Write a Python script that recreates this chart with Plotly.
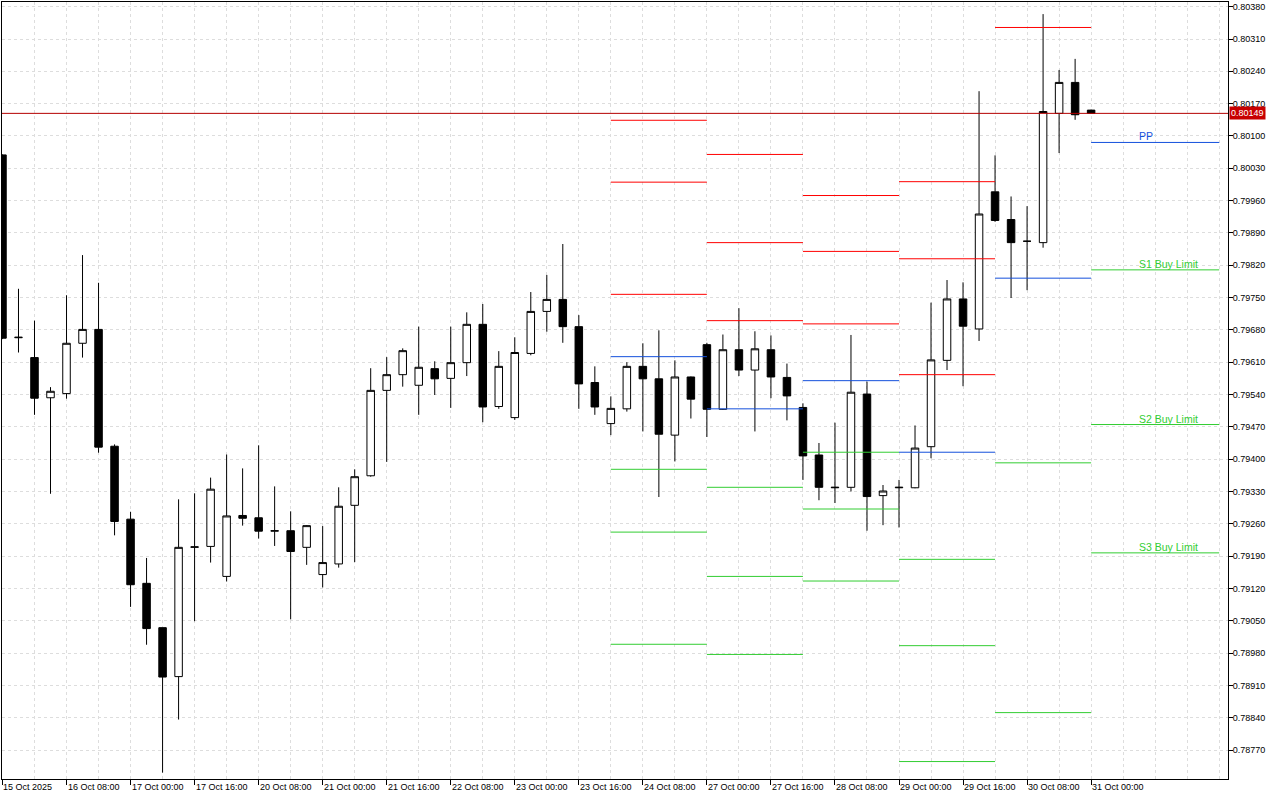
import plotly.graph_objects as go

# ---------------- data ----------------
opens = [0.80059, 0.79663, 0.79620, 0.79533, 0.79542, 0.79651, 0.79681, 0.79428, 0.79270, 0.79131,
         0.79035, 0.78929, 0.79209, 0.79211, 0.79146, 0.79278, 0.79273, 0.79244, 0.79245, 0.79209,
         0.79150, 0.79173, 0.79300, 0.79364, 0.79549, 0.79583, 0.79560, 0.79596, 0.79575, 0.79609,
         0.79692, 0.79514, 0.79490, 0.79629, 0.79720, 0.79746, 0.79687, 0.79566, 0.79477, 0.79509,
         0.79601, 0.79574, 0.79452, 0.79578, 0.79648, 0.79508, 0.79637, 0.79593, 0.79637, 0.79577,
         0.79512, 0.79409, 0.79338, 0.79339, 0.79541, 0.79321, 0.79338, 0.79338, 0.79427, 0.79614,
         0.79747, 0.79682, 0.79979, 0.79919, 0.79872, 0.79869, 0.80149, 0.80216, 0.80156]
highs = [0.80060, 0.79769, 0.79700, 0.79556, 0.79755, 0.79842, 0.79782, 0.79432, 0.79286, 0.79186,
         0.79035, 0.79313, 0.79326, 0.79360, 0.79410, 0.79380, 0.79430, 0.79341, 0.79287, 0.79257,
         0.79255, 0.79339, 0.79378, 0.79597, 0.79621, 0.79640, 0.79687, 0.79612, 0.79687, 0.79718,
         0.79736, 0.79634, 0.79664, 0.79762, 0.79799, 0.79866, 0.79712, 0.79601, 0.79536, 0.79610,
         0.79651, 0.79679, 0.79614, 0.79579, 0.79652, 0.79670, 0.79727, 0.79677, 0.79668, 0.79607,
         0.79521, 0.79435, 0.79479, 0.79669, 0.79568, 0.79344, 0.79355, 0.79473, 0.79739, 0.79788,
         0.79783, 0.80197, 0.80058, 0.79969, 0.79948, 0.80364, 0.80243, 0.80267, 0.80157]
lows = [0.79660, 0.79631, 0.79496, 0.79325, 0.79531, 0.79620, 0.79414, 0.79235, 0.79080, 0.78998,
        0.78721, 0.78836, 0.79049, 0.79176, 0.79135, 0.79256, 0.79228, 0.79212, 0.79053, 0.79171,
        0.79122, 0.79165, 0.79177, 0.79362, 0.79394, 0.79557, 0.79496, 0.79539, 0.79511, 0.79580,
        0.79480, 0.79509, 0.79485, 0.79625, 0.79676, 0.79652, 0.79509, 0.79496, 0.79452, 0.79503,
        0.79460, 0.79318, 0.79395, 0.79488, 0.79448, 0.79507, 0.79580, 0.79460, 0.79532, 0.79484,
        0.79355, 0.79311, 0.79305, 0.79330, 0.79245, 0.79257, 0.79252, 0.79337, 0.79402, 0.79593,
        0.79558, 0.79656, 0.79914, 0.79749, 0.79766, 0.79858, 0.80063, 0.80135, 0.80149]
closes = [0.79662, 0.79664, 0.79532, 0.79547, 0.79651, 0.79681, 0.79426, 0.79265, 0.79128, 0.79033,
          0.78928, 0.79209, 0.79210, 0.79335, 0.79277, 0.79272, 0.79244, 0.79245, 0.79200, 0.79256,
          0.79176, 0.79298, 0.79362, 0.79549, 0.79583, 0.79635, 0.79599, 0.79574, 0.79609, 0.79692,
          0.79513, 0.79601, 0.79631, 0.79720, 0.79746, 0.79687, 0.79563, 0.79513, 0.79510, 0.79601,
          0.79574, 0.79454, 0.79578, 0.79530, 0.79508, 0.79637, 0.79593, 0.79639, 0.79578, 0.79537,
          0.79407, 0.79339, 0.79339, 0.79545, 0.79319, 0.79331, 0.79339, 0.79424, 0.79615, 0.79747,
          0.79688, 0.79931, 0.79917, 0.79869, 0.79872, 0.80153, 0.80216, 0.80146, 0.80149]

tick_bars = [0, 4, 8, 12, 16, 20, 24, 28, 32, 36, 40, 44, 48, 52, 56, 60, 64, 68]
tick_labels = ["15 Oct 2025", "16 Oct 08:00", "17 Oct 00:00", "17 Oct 16:00", "20 Oct 08:00",
               "21 Oct 00:00", "21 Oct 16:00", "22 Oct 08:00", "23 Oct 00:00", "23 Oct 16:00",
               "24 Oct 08:00", "27 Oct 00:00", "27 Oct 16:00", "28 Oct 08:00", "29 Oct 00:00",
               "29 Oct 16:00", "30 Oct 08:00", "31 Oct 00:00"]

# daily pivot segments (bar index start / end)
seg_start = [38, 44, 50, 56, 62, 68]
seg_end = [44, 50, 56, 62, 68, 76]
resistance_levels = [[0.80134, 0.80000, 0.79757],
                     [0.80060, 0.79869, 0.79700],
                     [0.79971, 0.79850, 0.79693],
                     [0.80001, 0.79834, 0.79583],
                     [0.80335],
                     []]
pivot_levels = [0.79622, 0.79509, 0.79570, 0.79415, 0.79792, 0.80086]
support_levels = [[0.79378, 0.79242, 0.78999],
                  [0.79339, 0.79146, 0.78977],
                  [0.79415, 0.79292, 0.79136],
                  [0.79183, 0.78996, 0.78745],
                  [0.79392, 0.78851],
                  [0.79810, 0.79475, 0.79197]]
last_labels = ["PP", "S1 Buy Limit", "S2 Buy Limit", "S3 Buy Limit"]
label_bar = 71
current_price = 0.80149

# ---------------- styling ----------------
RED = "#FF0000"
BLUE = "#1450DC"
GREEN = "#32CD32"
GRID = "#DDDDDD"
FONT = "Liberation Sans"

fig = go.Figure()


def seg_trace(levels_per_seg, color):
    xs, ys = [], []
    for s, e, lv in zip(seg_start, seg_end, levels_per_seg):
        for v in lv:
            xs += [s, e, None]
            ys += [v, v, None]
    return go.Scatter(x=xs, y=ys, mode="lines", line=dict(color=color, width=1),
                      hoverinfo="skip", showlegend=False)


fig.add_trace(seg_trace(resistance_levels, RED))
fig.add_trace(seg_trace([[p] for p in pivot_levels], BLUE))
fig.add_trace(seg_trace(support_levels, GREEN))

n = len(opens)
fig.add_trace(go.Candlestick(
    x=list(range(n)), open=opens, high=highs, low=lows, close=closes,
    increasing=dict(line=dict(color="black", width=1), fillcolor="white"),
    decreasing=dict(line=dict(color="black", width=1), fillcolor="black"),
    whiskerwidth=0, showlegend=False, hoverinfo="skip"))

# current price line
fig.add_shape(type="line", xref="paper", x0=0, x1=1, yref="y",
              y0=current_price, y1=current_price,
              line=dict(color="#B40000", width=1), layer="above")

annotations = []
for b, t in zip(tick_bars, tick_labels):
    annotations.append(dict(x=b, y=0, xref="x", yref="paper", text=t, showarrow=False,
                            xanchor="left", yanchor="top", yshift=-1, xshift=-1,
                            font=dict(family=FONT, size=9, color="black")))

last_levels = [pivot_levels[-1]] + support_levels[-1]
last_colors = [BLUE, GREEN, GREEN, GREEN]
for lv, txt, c in zip(last_levels, last_labels, last_colors):
    annotations.append(dict(x=label_bar, y=lv, xref="x", yref="y", text=txt, showarrow=False,
                            xanchor="left", yanchor="bottom", yshift=-2, xshift=-2,
                            font=dict(family=FONT, size=10.5, color=c)))

annotations.append(dict(x=1, y=current_price, xref="paper", yref="y", text="%.5f" % current_price,
                        showarrow=False, xanchor="left", yanchor="middle", xshift=1,
                        bgcolor="#C80000", borderpad=1,
                        font=dict(family=FONT, size=9, color="white")))

fig.update_layout(
    width=1280, height=800,
    margin=dict(l=2, r=52, t=2, b=21),
    paper_bgcolor="white", plot_bgcolor="white",
    showlegend=False, boxgap=0.33,
    font=dict(family=FONT, size=9, color="black"),
    annotations=annotations,
    xaxis=dict(range=[-0.03, 76.55], rangeslider=dict(visible=False),
               tickmode="array", tickvals=tick_bars, showticklabels=False,
               ticks="outside", ticklen=5, tickcolor="black", tickwidth=1,
               showgrid=True, gridcolor=GRID, griddash="3px,3px", gridwidth=1,
               minor=dict(tickmode="linear", tick0=0, dtick=2, showgrid=True,
                          gridcolor=GRID, griddash="3px,3px", ticks=""),
               showline=True, mirror=True, linecolor="black", linewidth=1, zeroline=False),
    yaxis=dict(range=[0.787072, 0.803902], side="right", automargin=False,
               tickmode="linear", tick0=0.78770, dtick=0.0007, tickformat=".5f",
               ticks="outside", ticklen=4, tickcolor="black", ticklabelstandoff=-2,
               tickfont=dict(family=FONT, size=9, color="black"),
               showgrid=True, gridcolor=GRID, griddash="3px,3px",
               showline=True, mirror=True, linecolor="black", linewidth=1, zeroline=False),
)

fig.write_html("out.html", config={"displayModeBar": False},
               post_script="document.body.style.margin='0';document.body.style.overflow='hidden';")
